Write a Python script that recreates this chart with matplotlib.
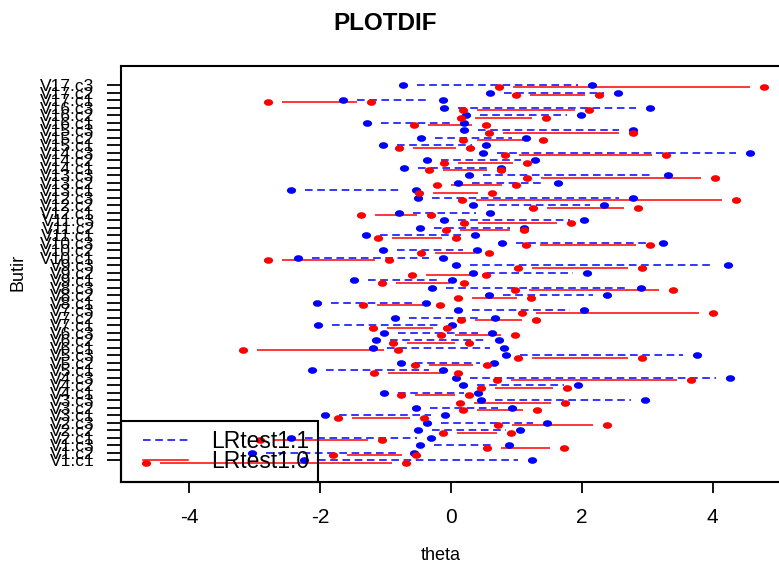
import numpy as np
import matplotlib
matplotlib.use("Agg")
import matplotlib.pyplot as plt
from matplotlib.path import Path
from matplotlib.lines import Line2D
from matplotlib.legend_handler import HandlerLine2D

plt.rcParams['font.family'] = ['Liberation Sans', 'DejaVu Sans']

# ---- data -------------------------------------------------------------
items = ["V1.c1", "V1.c2", "V1.c3", "V2.c1", "V2.c2", "V2.c3",
         "V3.c1", "V3.c2", "V3.c3", "V4.c1", "V4.c2", "V4.c3",
         "V5.c1", "V5.c2", "V5.c3", "V6.c1", "V6.c2", "V6.c3",
         "V7.c1", "V7.c2", "V7.c3", "V8.c1", "V8.c2", "V8.c3",
         "V9.c1", "V9.c2", "V9.c3", "V10.c1", "V10.c2", "V10.c3",
         "V11.c1", "V11.c2", "V11.c3", "V12.c1", "V12.c2", "V12.c3",
         "V13.c1", "V13.c2", "V13.c3", "V14.c1", "V14.c2", "V14.c3",
         "V15.c1", "V15.c2", "V15.c3", "V16.c1", "V16.c2", "V16.c3",
         "V17.c1", "V17.c2", "V17.c3"]

# LRtest1.1 (blue, dashed): two thresholds per item
lr11_lo = [-2.25, -3.04, -0.48, -2.45, -0.50, -0.36, -1.93, -0.53, 0.46,
           -1.02, 0.18, 0.08, -2.13, -0.76, 0.84, -1.20, -1.14, -1.02,
           -2.03, -0.86, 0.11, -2.05, 0.58, -0.29, -1.49, 0.34, 0.08,
           -2.34, -1.04, 0.78, -1.30, -0.48, -0.10, -0.79, 0.34, -0.50,
           -2.45, 0.11, 0.28, -0.72, -0.36, 0.49, -1.04, -0.46, 0.20,
           -1.28, 0.23, -0.10, -1.65, 0.60, -0.73]
lr11_hi = [1.24, -0.57, 0.88, -0.30, 1.05, 1.47, -0.09, 0.93, 2.97,
           0.41, 1.94, 4.26, -0.13, 0.65, 3.76, 0.81, 0.74, 0.62,
           0.01, 0.67, 2.03, -0.39, 2.38, 2.90, 0.01, 2.08, 4.24,
           -0.13, 0.39, 3.24, 0.36, 1.12, 2.03, 0.60, 2.34, 2.78,
           -0.53, 1.63, 3.32, 0.76, 1.28, 4.57, 0.54, 1.14, 2.79,
           0.20, 1.99, 3.04, -0.13, 2.55, 2.15]

# LRtest1.0 (red, solid)
lr10_lo = [-4.66, -1.81, 0.55, -2.92, -0.13, 0.72, -1.73, 0.18, 0.13,
           -0.76, 0.46, 0.70, -1.18, -0.55, 1.02, -3.18, -0.89, -0.15,
           -1.20, 0.16, 1.09, -1.35, 0.11, 0.98, -1.06, -0.59, 1.03,
           -2.80, -0.46, 1.14, -1.12, -0.08, 0.20, -1.37, 1.26, 0.17,
           -0.49, -0.22, 1.16, -0.34, -0.10, 0.82, -0.79, 0.18, 0.58,
           -0.56, 0.15, 0.18, -2.80, 1.00, 0.74]
lr10_hi = [-0.69, -0.54, 1.73, -1.06, 0.91, 2.38, -0.42, 1.32, 1.75,
           0.27, 1.78, 3.67, 0.11, 0.55, 2.92, -0.81, 0.28, 0.98,
           -0.06, 1.30, 4.00, -0.17, 1.23, 3.39, 0.20, 0.53, 2.92,
           -0.95, 0.58, 3.04, 0.08, 1.12, 1.83, -0.31, 2.86, 4.36,
           0.62, 1.00, 4.04, 0.76, 1.16, 3.28, 0.29, 1.40, 2.79,
           0.53, 1.46, 2.11, -1.22, 2.27, 4.79]

series_names = ["LRtest1.1", "LRtest1.0"]
x_ticks = [-4, -2, 0, 2, 4]

# ---- figure -----------------------------------------------------------
W, H = 779, 564
fig = plt.figure(figsize=(W / 100, H / 100), dpi=100)
ax_l, ax_r, ax_t, ax_b = 121, 789, 66, 481.5
ax = fig.add_axes([ax_l / W, (H - ax_b) / H, (ax_r - ax_l) / W, (ax_b - ax_t) / H])
xlim = (-5.046, 5.168)
ylim = (-2.8, 52.53)
ax.set_xlim(*xlim)
ax.set_ylim(*ylim)

px_per_unit = (ax_r - ax_l) / (xlim[1] - xlim[0])
gap = 14.0 / px_per_unit  # R type="b" gap around points

t = np.linspace(0, 2 * np.pi, 41)
ellipse = Path(np.column_stack([1.38 * np.cos(t), np.sin(t)]), closed=True)

ypos = np.arange(len(items), dtype=float)
red_off = -0.33

def draw_series(lo, hi, yv, color, ls):
    lo = np.asarray(lo); hi = np.asarray(hi)
    a = np.minimum(lo, hi); b = np.maximum(lo, hi)
    m = (b - a) > 2 * gap
    ax.hlines(yv[m], a[m] + gap, b[m] - gap, colors=color, linestyles=ls,
              linewidth=1.1, zorder=2)
    ax.plot(np.r_[a, b], np.r_[yv, yv], linestyle='none', marker=ellipse,
            markersize=6.6, color=color, markeredgewidth=0, zorder=3)

draw_series(lr11_lo, lr11_hi, ypos, 'blue', (0, (5, 3)))
draw_series(lr10_lo, lr10_hi, ypos + red_off, 'red', 'solid')

for s in ['left', 'bottom', 'top', 'right']:
    ax.spines[s].set_linewidth(1.5)

ax.set_xticks(x_ticks)
ax.set_xticklabels([str(v) for v in x_ticks], fontsize=15)
ax.tick_params(axis='x', length=8, width=1.3, pad=11)
ax.set_yticks(ypos)
ax.set_yticklabels(items, fontsize=12.5)
ax.tick_params(axis='y', length=10, width=1.3, pad=9)

fs_leg = 16.5
handles = [Line2D([], [], color='blue', linestyle=(0, (5, 3)), linewidth=1.1),
           Line2D([], [], color='red', linestyle='solid', linewidth=1.1)]
leg = ax.legend(handles, series_names, loc='lower left', bbox_to_anchor=(0, 0),
                borderaxespad=0, fontsize=fs_leg, fancybox=False, framealpha=1,
                facecolor='none', edgecolor='black', borderpad=0.38,
                handlelength=2.54, handletextpad=1.03, labelspacing=-0.14,
                handler_map={Line2D: HandlerLine2D(xpad=0.57)})
leg.get_frame().set_linewidth(1.5)
leg.set_zorder(5)

fig.text(385 / W, 1 - 24 / H, "PLOTDIF", ha='center', va='center',
         fontsize=17.5, fontweight='bold')
fig.text(441 / W, 1 - 556 / H, "theta", ha='center', va='center', fontsize=13)
fig.text(18 / W, 1 - 272 / H, "Butir", ha='center', va='center', fontsize=13,
         rotation=90)

fig.savefig("out.png", dpi=100)
